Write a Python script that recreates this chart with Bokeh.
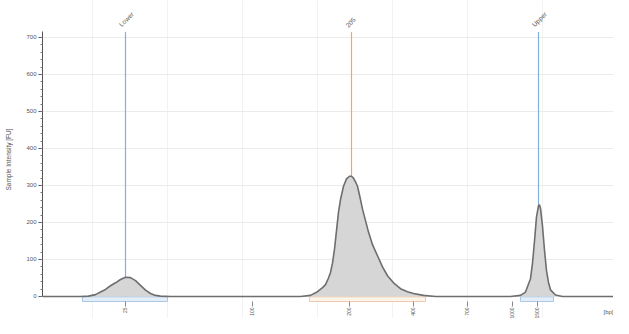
import math
from bokeh.plotting import figure
from bokeh.models import FixedTicker, SingleIntervalTicker, Range1d, ColumnDataSource
from bokeh.core.properties import value
from bokeh.embed import file_html
from bokeh.resources import INLINE

# ---------------- data (x = migration position, y = intensity in FU) ----------------
curve_x = [0, 38, 46, 53, 58, 63, 68, 73, 78, 83, 88, 93, 98, 103, 108, 113, 118, 128,
           258, 268, 275, 280, 283, 286, 288, 290, 292, 294, 296, 298, 301, 304, 307, 309,
           311, 313, 315, 318, 320, 323, 326, 330, 335, 340, 345, 351, 358, 365, 371, 381, 393,
           468, 478, 483, 488, 490, 492, 494, 496, 497, 498, 500, 502, 504, 506, 508, 513, 520,
           571]
curve_y = [0, 0, 1, 5, 12, 19, 29, 37, 46, 52, 51, 43, 30, 17, 8, 3, 1, 0,
           0, 3, 13, 24, 32, 50, 65, 90, 128, 178, 228, 262, 298, 318, 325, 325,
           320, 310, 298, 262, 236, 205, 174, 140, 110, 80, 56, 37, 21, 13, 8, 3, 0,
           0, 3, 12, 48, 90, 150, 215, 245, 248, 238, 190, 125, 70, 38, 18, 4, 0,
           0]

marker_x = [83, 309, 496]
marker_names = ["Lower", "205", "Upper"]

region_left = [40, 267, 478]
region_right = [125, 383, 511]

tick_pos = [83, 210, 307, 371, 425, 470, 495]
tick_labels = ["25", "100", "200", "400", "700", "1000", "1500"]

grid_x = [50, 125, 200, 275, 350, 425, 500]

x_label = "[bp]"
y_label = "Sample Intensity [FU]"

y_top = 715      # top of intensity scale
x_max = 571

# ---------------- styles ----------------
marker_colors = ["#85afdc", "#f2a46e", "#85afdc"]
region_fill = ["#e4eef9", "#fdf4ec", "#e4eef9"]
region_line = ["#a8c7e8", "#f0c9a9", "#a8c7e8"]
FONT = "Liberation Sans"
TXT = "#555555"

p = figure(width=613, height=318, output_backend="svg", toolbar_location=None,
           x_range=Range1d(0, x_max), y_range=Range1d(-59.5, 800),
           min_border_left=42, min_border_right=0, min_border_top=0, min_border_bottom=0)
p.outline_line_color = None
p.background_fill_color = "white"

# grids
p.xgrid.ticker = FixedTicker(ticks=grid_x)
p.xgrid.grid_line_color = "#f2f2f2"
p.xgrid.bounds = (0, y_top)
p.ygrid.ticker = SingleIntervalTicker(interval=100)
p.ygrid.grid_line_color = "#ebebeb"

# y axis
p.yaxis.ticker = SingleIntervalTicker(interval=100, num_minor_ticks=5)
p.yaxis.bounds = (0, y_top)
p.yaxis.axis_label = y_label
p.yaxis.axis_label_text_font = FONT
p.yaxis.axis_label_text_font_size = "6.5px"
p.yaxis.axis_label_text_font_style = "normal"
p.yaxis.axis_label_text_color = TXT
p.yaxis.axis_label_standoff = 11
p.yaxis.major_label_text_font = FONT
p.yaxis.major_label_text_font_size = "6px"
p.yaxis.major_label_text_color = TXT
p.yaxis.major_label_standoff = 2
p.yaxis.axis_line_color = "#555555"
p.yaxis.major_tick_line_color = "#555555"
p.yaxis.minor_tick_line_color = "#777777"
p.yaxis.major_tick_out = 4
p.yaxis.major_tick_in = 0
p.yaxis.minor_tick_out = 2
p.yaxis.minor_tick_in = 0

# x axis (drawn just below the baseline)
p.xaxis.fixed_location = -13.5
p.xaxis.ticker = FixedTicker(ticks=tick_pos)
p.xaxis.major_label_overrides = {t: l for t, l in zip(tick_pos, tick_labels)}
p.xaxis.major_label_orientation = math.pi / 2
p.xaxis.major_label_text_font = FONT
p.xaxis.major_label_text_font_size = "5px"
p.xaxis.major_label_text_color = TXT
p.xaxis.major_label_standoff = 1
p.xaxis.axis_line_color = None
p.xaxis.major_tick_line_color = "#888888"
p.xaxis.major_tick_out = 5
p.xaxis.major_tick_in = 0
p.xaxis.minor_tick_line_color = None

# region bars below the baseline
reg = ColumnDataSource(dict(l=region_left, r=region_right, f=region_fill, c=region_line))
p.quad(left="l", right="r", bottom=-13.5, top=-1, source=reg,
       fill_color="f", line_color="c", line_width=1)

# marker lines (behind the trace fill)
mk = ColumnDataSource(dict(x=marker_x, y0=[0] * 3, y1=[y_top] * 3, c=marker_colors,
                           t=marker_names))
p.segment(x0="x", y0="y0", x1="x", y1="y1", source=mk, line_color="c", line_width=1.2)

# trace
p.varea(x=curve_x, y1=[0] * len(curve_x), y2=curve_y, fill_color="#d6d6d6")
p.line(curve_x, curve_y, line_color="#6e6e6e", line_width=1.6)

# peak labels at top
p.text(x="x", y="y1", text="t", source=mk, angle=math.pi / 4,
       x_offset=-3, y_offset=-4, text_align="left", text_baseline="bottom",
       text_font=value(FONT), text_font_size="6.5px", text_color=TXT)

# x axis title at the right end
p.text(x=[x_max], y=[-43], text=[x_label], text_align="right", text_baseline="middle",
       text_font=value(FONT), text_font_size="6px", text_color=TXT)

open("out.html", "w").write(file_html(p, INLINE))
